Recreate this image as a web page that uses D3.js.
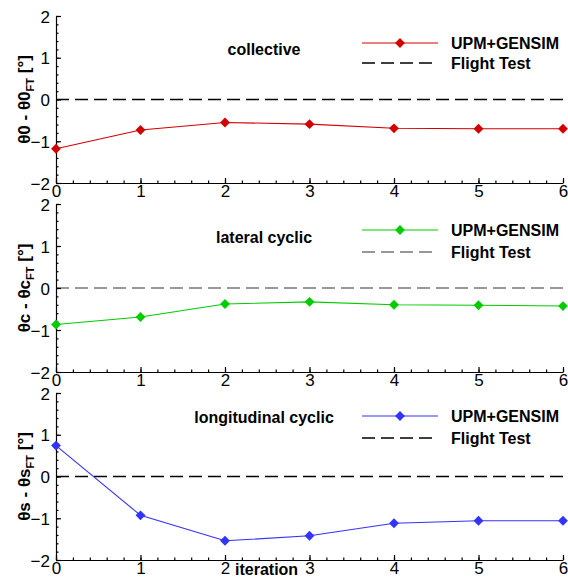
<!DOCTYPE html>
<html>
<head>
<meta charset="utf-8">
<script src="https://cdn.jsdelivr.net/npm/d3@7"></script>
<style>
  body { margin: 0; background: #fff; }
  text { font-family: "Liberation Sans", Arial, sans-serif; }
</style>
</head>
<body>
<div id="chart"></div>
<script>
// Chart data
var iterations = [0, 1, 2, 3, 4, 5, 6];
var collective = [-1.18, -0.73, -0.55, -0.59, -0.69, -0.70, -0.70];
var lateralCyclic = [-0.87, -0.69, -0.38, -0.33, -0.40, -0.41, -0.43];
var longitudinalCyclic = [0.74, -0.93, -1.54, -1.42, -1.12, -1.06, -1.06];
var flightTest = 0;
var yTicks = [-2, -1, 0, 1, 2];
var xTicks = [0, 1, 2, 3, 4, 5, 6];
var seriesName = "UPM+GENSIM";
var refName = "Flight Test";

var panels = [
  {title: "collective", values: collective, color: "#d40000", refColor: "#000", sym: "0",
   top: 16, bottom: 183, titleY: 39, legY: [27, 47]},
  {title: "lateral cyclic", values: lateralCyclic, color: "#00cc00", refColor: "#777", sym: "c",
   top: 204, bottom: 372, titleY: 39, legY: [26, 48]},
  {title: "longitudinal cyclic", values: longitudinalCyclic, color: "#3333ff", refColor: "#000", sym: "s",
   top: 393, bottom: 560, titleY: 30, legY: [23, 45]}
];

var width = 568, height = 578;

var svg = d3.select("#chart")
    .append("svg")
    .attr("width", width)
    .attr("height", height);

// shared x scale
var x = d3.scaleLinear()
    .domain([0, 6])
    .range([56, 563]);

var minorX = d3.range(0, 6.001, 0.2);
var minorY = d3.range(-2, 2.001, 0.2);

panels.forEach(function (p) {
    var y = d3.scaleLinear()
        .domain([-2, 2])
        .range([p.bottom, p.top]);

    var g = svg.append("g");

    // flight test reference line
    g.append("line")
        .attr("x1", x(0)).attr("x2", x(6))
        .attr("y1", y(flightTest)).attr("y2", y(flightTest))
        .attr("stroke", p.refColor)
        .attr("stroke-width", 1.3)
        .attr("stroke-dasharray", "13,6");

    // minor ticks
    g.append("g")
        .attr("transform", "translate(" + x(0) + ",0)")
        .call(d3.axisLeft(y).tickValues(minorY).tickSize(-2.5).tickFormat(""))
        .call(function (a) { a.select(".domain").remove(); });
    g.append("g")
        .attr("transform", "translate(0," + p.bottom + ")")
        .call(d3.axisBottom(x).tickValues(minorX).tickSize(-2.5).tickFormat(""))
        .call(function (a) { a.select(".domain").remove(); });

    // y axis
    var yAxis = g.append("g")
        .attr("transform", "translate(" + x(0) + ",0)")
        .call(d3.axisLeft(y).tickValues(yTicks).tickSize(-5).tickSizeOuter(0).tickPadding(6)
            .tickFormat(d3.format("d")));
    yAxis.selectAll("text")
        .style("font-size", "17px")
        .attr("fill", "#000")
        .attr("dy", "0.36em");

    // x axis
    var xAxis = g.append("g")
        .attr("transform", "translate(0," + p.bottom + ")")
        .call(d3.axisBottom(x).tickValues(xTicks).tickSize(-5).tickSizeOuter(0).tickPadding(2)
            .tickFormat(d3.format("d")));
    xAxis.selectAll("text")
        .style("font-size", "17px")
        .attr("fill", "#000");

    g.selectAll(".domain, .tick line").attr("stroke", "#000").attr("stroke-width", 1.2);

    // series line
    var line = d3.line()
        .x(function (d, i) { return x(iterations[i]); })
        .y(function (d) { return y(d); });

    g.append("path")
        .datum(p.values)
        .attr("d", line)
        .attr("fill", "none")
        .attr("stroke", p.color)
        .attr("stroke-width", 1.1);

    var diamond = d3.symbol().type(d3.symbolDiamond2).size(62);

    g.selectAll("path.mark")
        .data(p.values)
        .enter()
        .append("path")
        .attr("class", "mark")
        .attr("d", diamond)
        .attr("transform", function (d, i) {
            return "translate(" + x(iterations[i]) + "," + y(d) + ")";
        })
        .attr("fill", p.color);

    // panel title
    g.append("text")
        .attr("x", 264)
        .attr("y", p.top + p.titleY)
        .attr("text-anchor", "middle")
        .style("font-size", "16px")
        .style("font-weight", "bold")
        .text(p.title);

    // legend
    var l1 = p.top + p.legY[0], l2 = p.top + p.legY[1];
    g.append("line")
        .attr("x1", 362).attr("x2", 438)
        .attr("y1", l1).attr("y2", l1)
        .attr("stroke", p.color)
        .attr("stroke-width", 1.1);
    g.append("path")
        .attr("d", diamond)
        .attr("transform", "translate(400," + l1 + ")")
        .attr("fill", p.color);
    g.append("text")
        .attr("x", 451).attr("y", l1 + 6)
        .style("font-size", "16px")
        .style("font-weight", "bold")
        .text(seriesName);
    g.append("line")
        .attr("x1", 362).attr("x2", 438)
        .attr("y1", l2).attr("y2", l2)
        .attr("stroke", p.refColor)
        .attr("stroke-width", 1.3)
        .attr("stroke-dasharray", "13,6");
    g.append("text")
        .attr("x", 451).attr("y", l2 + 6)
        .style("font-size", "16px")
        .style("font-weight", "bold")
        .text(refName);

    // y label
    var yl = g.append("text")
        .attr("transform", "translate(30," + y(0) + ") rotate(-90)")
        .attr("text-anchor", "middle")
        .style("font-size", "17px")
        .style("font-weight", "bold");
    yl.append("tspan").text("\u03b8" + p.sym + " - \u03b8" + p.sym);
    yl.append("tspan").attr("dy", 4).style("font-size", "11px").text("FT");
    yl.append("tspan").attr("dy", -4).text(" [\u00b0]");
});

// x label
svg.append("text")
    .attr("x", 235)
    .attr("y", 575)
    .style("font-size", "16px")
    .style("font-weight", "bold")
    .text("iteration");
</script>
</body>
</html>
